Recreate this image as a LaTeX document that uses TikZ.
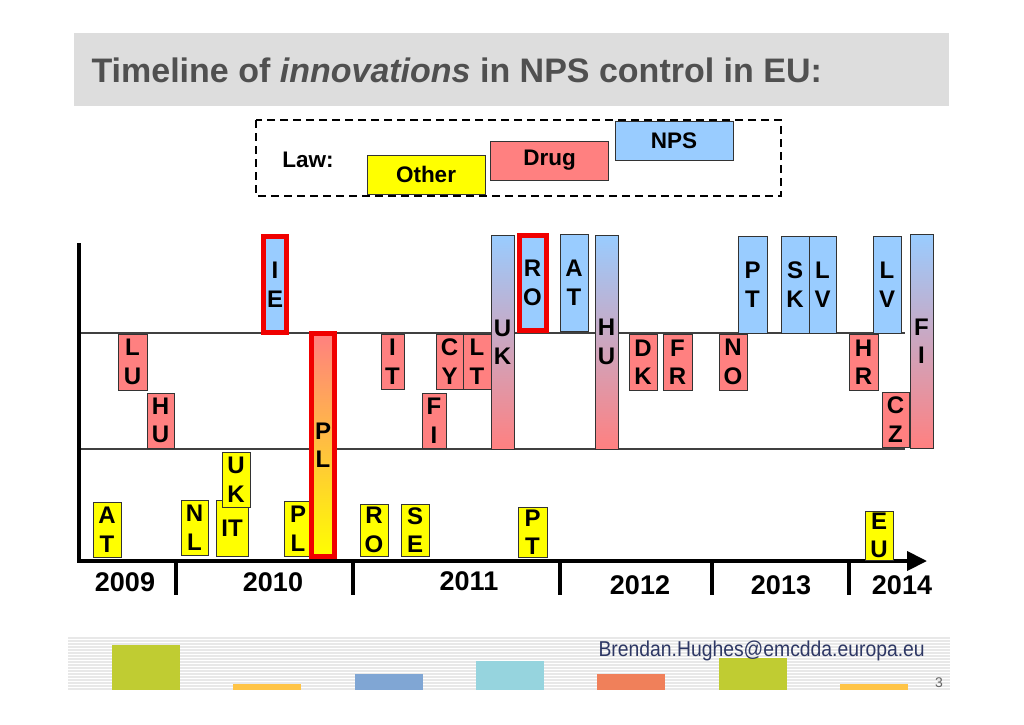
\documentclass[tikz,border=0pt]{standalone}
\usepackage{fontspec}
\setmainfont{Liberation Sans}
\newfontfamily\emailfont[FakeStretch=0.9]{Liberation Sans}
\usetikzlibrary{arrows.meta}
\definecolor{drugc}{RGB}{255,128,128}
\definecolor{npsc}{RGB}{153,204,255}
\definecolor{otherc}{RGB}{255,255,0}
\definecolor{hdrgray}{RGB}{221,221,221}
\definecolor{titlec}{RGB}{80,80,80}
\definecolor{hil}{RGB}{240,0,0}
\definecolor{footg}{RGB}{232,232,232}
\definecolor{fgreen}{RGB}{192,204,50}
\definecolor{forange}{RGB}{255,196,70}
\definecolor{fblue}{RGB}{128,166,212}
\definecolor{fcyan}{RGB}{150,212,222}
\definecolor{fsalmon}{RGB}{240,128,90}
\definecolor{emailc}{RGB}{45,55,100}
\begin{document}
\begin{tikzpicture}[x=1pt,y=-1pt,
  lbox/.style={draw=black!80, line width=1pt, inner sep=0pt, align=center,
    font=\fontsize{24}{28.5}\selectfont\bfseries},
  sz/.style 2 args={minimum width=#1pt, minimum height=#2pt},
  otherbox/.style={lbox, fill=otherc},
  drugbox/.style={lbox, fill=drugc},
  npsbox/.style={lbox, fill=npsc},
  hilite/.style={draw=hil, line width=5pt},
  npsdrug/.style={lbox, top color=npsc, bottom color=drugc},
  drugother/.style={lbox, top color=drugc, bottom color=otherc},
  legbox/.style={draw=black!80, line width=1pt, inner sep=0pt,
    minimum width=118pt, minimum height=39pt, font=\fontsize{22.5}{26}\selectfont\bfseries},
  yearlbl/.style={font=\fontsize{27}{30}\selectfont\bfseries},
  tickline/.style={line width=3.5pt},
  guide/.style={draw=black!75, line width=1.5pt}
]
\useasboundingbox (0,0) rectangle (1024,724);
% header
\fill[hdrgray] (74,33) rectangle (949,106);
\node[anchor=west, text=titlec, font=\fontsize{34}{37}\selectfont\bfseries] (title) at (88,70)
  {Timeline of \textit{innovations} in NPS control in EU:};
% legend
\draw[line width=2pt, dash pattern=on 8pt off 5pt] (256,120) rectangle (781,196);
\node[font=\fontsize{22.5}{26}\selectfont\bfseries] (law) at (308,160) {Law:};
\node[legbox, fill=otherc] (lother) at (426,174.5) {Other};
\node[legbox, fill=drugc] (ldrug) at (549.5,160.5) {Drug};
\node[legbox, fill=npsc] (lnps) at (674,140.5) {NPS};
% guide lines
\coordinate (g1a) at (79,333); \coordinate (g1b) at (905,333);
\coordinate (g2a) at (79,449); \coordinate (g2b) at (905,449);
\draw[guide] (g1a) -- (g1b);
\draw[guide] (g2a) -- (g2b);
% axes
\coordinate (vtop) at (79,243); \coordinate (vbot) at (79,563);
\coordinate (hl) at (77,561); \coordinate (hr) at (927,561);
\draw[line width=4pt] (vtop) -- (vbot);
\draw[line width=4pt, -{Triangle[length=20pt,width=19pt]}] (hl) -- (hr);
% ticks
\foreach \t [count=\i] in {176,353,560,712,849}{
  \coordinate (ta\i) at (\t,563); \coordinate (tb\i) at (\t,595);
  \draw[tickline] (ta\i) -- (tb\i);
}
% years
\node[yearlbl] (y2009) at (125,582) {2009};
\node[yearlbl] (y2010) at (273,582) {2010};
\node[yearlbl] (y2011) at (469,581) {2011};
\node[yearlbl] (y2012) at (640,585) {2012};
\node[yearlbl] (y2013) at (781,585) {2013};
\node[yearlbl] (y2014) at (902,585) {2014};
% other laws
\node[otherbox, sz={28}{55}] (oat) at (107,529.5) {A\\T};
\node[otherbox, sz={27}{55}] (onl) at (194.5,527.5) {N\\L};
\node[otherbox, sz={32}{56}] (oit) at (232,528) {IT};
\node[otherbox, sz={28}{55}] (ouk) at (236,479.5) {U\\K};
\node[otherbox, sz={28}{55}] (opl) at (298,528.5) {P\\L};
\node[otherbox, sz={28}{52}] (oro) at (374,530) {R\\O};
\node[otherbox, sz={28}{52}] (ose) at (415,530) {S\\E};
\node[otherbox, sz={29}{50}] (opt) at (532.5,532) {P\\T};
\node[otherbox, sz={28}{49}] (oeu) at (879,535.5) {E\\U};
% drug laws
\node[drugbox, sz={29}{56}] (dlu) at (132.5,362) {L\\U};
\node[drugbox, sz={27}{55}] (dhu) at (160.5,420.5) {H\\U};
\node[drugbox, sz={23}{55}] (dit) at (392.5,361.5) {I\\T};
\node[drugbox, sz={27}{55}] (dcy) at (449.5,361.5) {C\\Y};
\node[drugbox, sz={28}{55}] (dlt) at (477,361.5) {L\\T};
\node[drugbox, sz={24}{55}] (dfi) at (434,420.5) {F\\I};
\node[drugbox, sz={28}{56}] (ddk) at (643,362) {D\\K};
\node[drugbox, sz={29}{56}] (dfr) at (677.5,362) {F\\R};
\node[drugbox, sz={28}{56}] (dno) at (733,362) {N\\O};
\node[drugbox, sz={29}{56}] (dhr) at (863.5,362) {H\\R};
\node[drugbox, sz={27}{55}] (dcz) at (895.5,419.5) {C\\Z};
% nps laws
\node[npsbox, hilite, sz={23}{96}] (nie) at (275,284.5) {I\\E};
\node[npsbox, hilite, sz={27}{95}] (nro) at (532.5,283) {R\\O};
\node[npsbox, sz={28}{97}] (nat) at (574,282.5) {A\\T};
\node[npsbox, sz={29}{97}] (npt) at (752.5,284.5) {P\\T};
\node[npsbox, sz={28}{97}] (nsk) at (795,284.5) {S\\K};
\node[npsbox, sz={27}{97}] (nlv) at (822.5,284.5) {L\\V};
\node[npsbox, sz={28}{97}] (nlv2) at (887,284.5) {L\\V};
% mixed bars
\node[drugother, hilite, sz={23}{223}] (mpl) at (323,445) {P\\L};
\node[npsdrug, sz={23}{214}] (muk) at (502.5,342) {U\\K};
\node[npsdrug, sz={23}{214}] (mhu) at (606.5,342) {H\\U};
\node[npsdrug, sz={23}{214}] (mfi) at (921.5,341) {F\\I};
% footer
\fill[footg] (68,637) rectangle (950,690);
\foreach \yy in {639,642,...,688} \draw[white, line width=0.7pt] (68,\yy) -- (950,\yy);
\fill[fgreen] (112,645) rectangle (180,690);
\fill[forange] (233,684) rectangle (301,690);
\fill[fblue] (355,674) rectangle (423,690);
\fill[fcyan] (476,661) rectangle (544,690);
\fill[fsalmon] (597,674) rectangle (665,690);
\fill[fgreen] (719,658) rectangle (787,690);
\fill[forange] (840,684) rectangle (908,690);
\node[anchor=west, text=emailc, font=\emailfont\fontsize{21.5}{24}\selectfont] (email) at (595,651)
  {Brendan.Hughes@emcdda.europa.eu};
\node[text=black!60, font=\fontsize{14}{16}\selectfont] (pnum) at (939,683) {3};
\end{tikzpicture}
\end{document}
